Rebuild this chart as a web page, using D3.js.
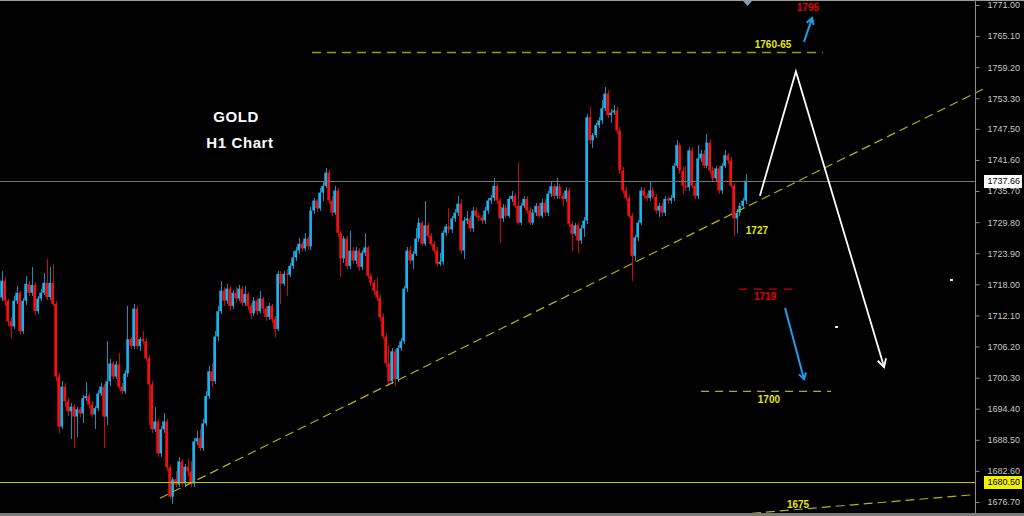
<!DOCTYPE html>
<html>
<head>
<meta charset="utf-8">
<script src="https://cdn.jsdelivr.net/npm/d3@7"></script>
<style>
body { margin: 0; background: #000; }
svg { display: block; }
text { font-family: "Liberation Sans", Arial, sans-serif; }
</style>
</head>
<body>
<svg width="1024" height="516"></svg>
<script>
// GOLD H1 candles (open = previous close)
var firstOpen = 1715.5;
var closes = [
1718.7,1714.9,1711.0,1710.0,1714.9,1716.4,1709.1,1714.9,1718.1,1716.4,
1717.9,1712.9,1715.3,1716.4,1718.3,1715.6,1718.3,1714.3,1700.5,1691.0,
1698.6,1695.8,1693.9,1694.8,1692.9,1694.3,1693.5,1696.4,1696.8,1695.2,
1693.3,1694.5,1697.3,1698.6,1692.9,1699.6,1703.0,1700.5,1702.8,1698.6,
1697.7,1701.1,1707.6,1706.3,1713.4,1706.3,1707.6,1707.2,1704.0,1699.0,
1690.5,1692.0,1685.9,1690.5,1692.0,1683.3,1677.7,1681.0,1680.0,1684.4,
1680.2,1683.4,1682.5,1680.2,1688.2,1688.8,1686.9,1691.6,1696.8,1701.5,
1699.6,1708.1,1712.9,1716.8,1714.9,1717.2,1713.9,1716.4,1715.3,1717.2,
1714.5,1716.2,1713.9,1712.5,1714.9,1712.9,1715.3,1713.4,1711.8,1713.9,
1711.4,1709.5,1720.0,1718.1,1720.0,1719.8,1721.5,1723.1,1724.4,1725.7,
1724.8,1726.7,1725.2,1732.0,1733.9,1732.4,1735.4,1736.7,1739.2,1733.9,
1731.6,1735.8,1727.8,1722.9,1726.7,1721.5,1724.4,1722.5,1724.4,1721.3,
1724.0,1725.0,1719.6,1718.3,1716.8,1715.5,1711.8,1708.1,1703.0,1699.6,
1705.3,1700.0,1705.9,1707.2,1717.2,1724.4,1722.5,1723.8,1726.7,1729.7,
1725.7,1729.2,1727.2,1725.7,1724.4,1721.9,1722.3,1727.8,1729.0,1728.4,
1730.5,1731.6,1733.3,1724.4,1730.1,1730.5,1728.6,1732.0,1731.0,1730.7,
1730.1,1732.0,1733.9,1734.4,1736.7,1733.9,1730.5,1732.6,1731.0,1734.2,
1734.8,1732.9,1729.7,1732.9,1734.2,1732.0,1729.7,1731.6,1732.9,1731.0,
1733.5,1731.6,1735.2,1736.6,1734.8,1736.6,1734.8,1734.2,1735.8,1729.5,
1727.6,1729.2,1726.3,1728.6,1730.1,1749.7,1745.3,1746.3,1748.2,1749.1,
1751.4,1754.2,1750.1,1750.6,1751.0,1747.2,1739.6,1735.8,1734.4,1731.0,
1723.4,1726.9,1729.7,1735.8,1734.8,1734.4,1735.8,1734.6,1732.0,1732.9,
1731.6,1734.2,1733.9,1734.4,1740.5,1744.4,1739.6,1736.7,1736.4,1743.4,
1736.7,1734.8,1741.9,1742.8,1740.5,1744.9,1739.6,1738.1,1740.0,1735.8,
1740.5,1742.5,1741.5,1736.7,1730.5,1731.6,1732.9,1733.9,1737.66
];
var highs = [
1720.6,1719.3,1715.3,1711.8,1715.8,1717.7,1716.8,1715.5,1719.6,1718.7,
1721.2,1718.5,1715.8,1717.2,1720.2,1722.9,1721.2,1721.9,1714.9,1701.1,
1699.6,1699.2,1696.4,1695.4,1695.2,1694.8,1694.8,1697.0,1699.4,1697.3,
1695.8,1695.0,1697.9,1699.2,1699.0,1707.2,1703.8,1703.4,1703.4,1704.9,
1699.2,1701.7,1713.9,1708.1,1714.3,1713.9,1708.1,1709.1,1707.9,1704.5,
1699.6,1694.8,1692.4,1691.1,1693.5,1692.4,1683.8,1681.5,1682.5,1685.3,
1684.9,1684.0,1684.9,1684.4,1688.8,1690.1,1690.5,1692.4,1697.7,1702.5,
1703.0,1709.1,1713.9,1718.7,1717.4,1718.1,1717.7,1717.0,1717.4,1717.9,
1717.6,1717.7,1716.6,1714.5,1715.6,1715.5,1716.8,1715.6,1713.9,1714.5,
1714.3,1712.0,1720.6,1720.6,1720.6,1721.0,1722.1,1724.4,1725.0,1726.7,
1726.3,1727.8,1727.2,1732.6,1734.4,1734.2,1736.2,1737.7,1740.0,1739.6,
1734.8,1736.6,1736.2,1728.2,1727.2,1727.1,1728.2,1725.0,1725.0,1724.8,
1724.6,1727.8,1725.3,1720.2,1718.9,1719.3,1716.0,1712.3,1708.7,1706.3,
1705.9,1705.7,1706.4,1707.8,1717.7,1725.0,1725.2,1724.4,1728.6,1730.5,
1730.1,1733.9,1729.7,1727.8,1726.3,1725.0,1724.0,1728.4,1729.5,1732.4,
1731.0,1732.2,1734.8,1734.2,1730.7,1732.0,1731.0,1732.6,1732.6,1731.6,
1731.2,1732.6,1734.4,1735.0,1738.2,1737.3,1734.4,1733.2,1733.2,1734.8,
1735.8,1735.4,1741.1,1733.5,1734.8,1734.8,1732.6,1732.2,1733.5,1733.5,
1734.1,1734.1,1735.8,1737.7,1737.1,1738.1,1737.1,1735.4,1736.4,1736.2,
1730.1,1729.7,1729.7,1729.2,1730.7,1750.3,1751.6,1746.8,1748.7,1749.7,
1752.9,1755.4,1754.8,1751.2,1752.0,1751.6,1747.8,1740.2,1736.4,1735.0,
1731.6,1727.4,1730.3,1736.4,1736.4,1735.4,1737.7,1736.4,1735.2,1733.5,
1733.5,1734.8,1734.8,1735.0,1741.1,1745.3,1744.9,1740.2,1740.5,1744.0,
1744.0,1737.3,1744.4,1743.4,1743.4,1746.6,1745.5,1740.2,1740.5,1740.5,
1741.1,1743.4,1743.0,1742.1,1737.3,1732.2,1733.5,1734.4,1739.0
];
var lows = [
1714.9,1713.9,1710.0,1707.8,1709.5,1714.3,1708.3,1708.5,1714.1,1715.7,
1715.8,1712.1,1712.3,1714.9,1716.0,1715.1,1715.1,1713.8,1699.6,1689.7,
1690.5,1694.8,1693.1,1688.6,1686.9,1689.1,1692.8,1691.6,1695.8,1694.5,
1692.8,1690.6,1693.9,1696.8,1686.9,1691.4,1698.8,1700.0,1700.0,1698.1,
1697.1,1697.1,1700.5,1705.7,1705.7,1705.7,1705.3,1706.6,1703.4,1691.4,
1689.7,1689.9,1685.3,1685.3,1689.7,1682.5,1677.2,1676.4,1679.5,1679.5,
1679.6,1679.6,1681.7,1679.5,1679.6,1687.6,1686.3,1686.3,1691.1,1696.2,
1698.6,1699.0,1707.2,1712.3,1713.9,1714.3,1712.9,1713.4,1714.5,1714.9,
1713.8,1713.9,1713.2,1711.4,1711.9,1712.1,1712.5,1712.5,1711.0,1711.3,
1710.6,1708.1,1709.1,1714.3,1717.6,1715.8,1719.3,1721.0,1722.5,1723.8,
1724.2,1724.4,1724.6,1724.6,1731.4,1731.8,1732.0,1733.9,1736.2,1733.3,
1731.0,1731.2,1727.0,1719.3,1722.1,1721.0,1721.0,1721.9,1721.9,1720.6,
1720.8,1723.4,1719.1,1717.7,1716.0,1714.9,1711.0,1707.6,1702.3,1698.8,
1699.0,1698.8,1699.4,1705.3,1706.6,1716.6,1721.9,1721.0,1723.3,1726.1,
1725.2,1725.2,1726.7,1725.2,1723.8,1721.4,1721.5,1721.7,1727.2,1727.8,
1727.8,1729.9,1731.0,1723.8,1722.9,1729.5,1728.0,1728.0,1730.5,1730.1,
1729.5,1729.5,1731.4,1733.3,1733.9,1733.3,1725.9,1729.9,1730.5,1730.5,
1733.7,1732.4,1729.2,1729.2,1732.4,1731.4,1729.2,1729.2,1731.0,1730.5,
1730.5,1731.0,1731.0,1734.6,1734.2,1734.2,1734.2,1732.9,1733.7,1728.9,
1724.4,1727.1,1724.0,1725.7,1726.9,1729.5,1744.7,1743.8,1745.7,1747.6,
1748.5,1750.8,1749.5,1748.7,1750.1,1746.6,1739.0,1735.2,1733.9,1730.5,
1718.7,1722.5,1726.3,1729.2,1734.2,1733.9,1733.9,1734.1,1731.4,1730.7,
1731.0,1731.0,1733.3,1733.3,1733.9,1740.0,1739.0,1735.2,1735.8,1735.8,
1736.2,1734.2,1734.2,1741.3,1740.0,1740.0,1739.0,1737.5,1737.5,1735.2,
1735.2,1740.0,1740.9,1736.2,1727.2,1727.8,1731.0,1732.4,1733.3
];

var tickLabels = ["1771.00","1765.10","1759.20","1753.30","1747.50","1741.60","1735.70","1729.80",
  "1723.90","1718.00","1712.10","1706.20","1700.30","1694.40","1688.50","1682.60","1676.70"];
var lastPrice = 1737.66;
var supportPrice = 1680.50;

// drawn objects, as [bar index, price]
var trendUp = [[52.8, 1677.4], [327.8, 1755.2]];
var trendLow = [[236.2, 1673.9], [324.5, 1678.1]];
var levelLines = [
  { pts: [[103.5, 1762.0], [273.8, 1762.0]], color: "#9c9c00", dash: "9,6", w: 1.6 },
  { pts: [[245.8, 1717.1], [263.8, 1717.1]], color: "#c80000", dash: "8,7", w: 1.3 },
  { pts: [[233.2, 1697.7], [276.5, 1697.7]], color: "#b4b400", dash: "8,6", w: 1.3 }
];
var forecast = [[252.8, 1734.8], [264.8, 1758.4], [294.2, 1702.3]];
var blueArrows = [
  [[267.5, 1764.0], [270.2, 1768.5]],
  [[261.2, 1713.5], [267.5, 1700.0]]
];
var labels = [
  { text: "1795", i: 268.8, p: 1769.9, color: "#e80000" },
  { text: "1760-65", i: 257.2, p: 1762.8, color: "#e8e800" },
  { text: "1727", i: 251.8, p: 1727.6, color: "#e8e800" },
  { text: "1719", i: 254.5, p: 1715.0, color: "#e80000" },
  { text: "1700", i: 255.8, p: 1695.4, color: "#e8e800" },
  { text: "1675", i: 265.5, p: 1675.6, color: "#e8e800" }
];
var dots = [[316.5, 1718.9], [278.2, 1709.9]];

var svg = d3.select("svg"),
    width = +svg.attr("width"),
    height = +svg.attr("height");

var x = d3.scaleLinear().domain([0, 324.5]).range([1.5, 975]);
var y = d3.scaleLinear().domain([1771, 1676.7]).range([5, 502]);

svg.append("rect").attr("width", width).attr("height", height).attr("fill", "#000");

var candles = closes.map(function(c, i) {
  var o = i ? closes[i - 1] : firstOpen;
  return { i: i, o: o, c: c, h: Math.max(highs[i], o, c), l: Math.min(lows[i], o, c) };
});
function col(d) { return d.c >= d.o ? "#19b4f2" : "#ff0d0d"; }

var cg = svg.append("g");
cg.selectAll(".wick")
  .data(candles)
  .enter().append("rect")
    .attr("shape-rendering", "crispEdges")
    .attr("x", function(d) { return Math.round(x(d.i)); })
    .attr("width", 1)
    .attr("y", function(d) { return y(d.h); })
    .attr("height", function(d) { return Math.max(1, y(d.l) - y(d.h)); })
    .attr("fill", col)
    .attr("opacity", 0.8);
cg.selectAll(".body")
  .data(candles)
  .enter().append("rect")
    .attr("x", function(d) { return x(d.i) - 1.2; })
    .attr("width", 2.6)
    .attr("y", function(d) { return y(Math.max(d.o, d.c)); })
    .attr("height", function(d) { return Math.max(1, Math.abs(y(d.o) - y(d.c))); })
    .attr("fill", col);

var line = d3.line()
  .x(function(d) { return x(d[0]); })
  .y(function(d) { return y(d[1]); });

// horizontal price lines
svg.append("line")
  .attr("x1", 0).attr("x2", 975)
  .attr("y1", Math.round(y(lastPrice)) + 0.5).attr("y2", Math.round(y(lastPrice)) + 0.5)
  .attr("stroke", "#72757c");
svg.append("line")
  .attr("x1", 0).attr("x2", 975)
  .attr("y1", Math.round(y(supportPrice)) + 0.5).attr("y2", Math.round(y(supportPrice)) + 0.5)
  .attr("stroke", "#c4c400");

// trend lines
[trendUp, trendLow].forEach(function(t) {
  svg.append("path").attr("d", line(t))
    .attr("fill", "none").attr("stroke", "#b8b400")
    .attr("stroke-width", 1.2).attr("stroke-dasharray", "9,5");
});
levelLines.forEach(function(l) {
  svg.append("path").attr("d", line(l.pts))
    .attr("fill", "none").attr("stroke", l.color)
    .attr("stroke-width", l.w).attr("stroke-dasharray", l.dash);
});

function arrowHead(a, b, len, ang) {
  var x1 = x(a[0]), y1 = y(a[1]), x2 = x(b[0]), y2 = y(b[1]);
  var t = Math.atan2(y2 - y1, x2 - x1);
  return "M" + (x2 - len * Math.cos(t - ang)) + "," + (y2 - len * Math.sin(t - ang)) +
    "L" + x2 + "," + y2 +
    "L" + (x2 - len * Math.cos(t + ang)) + "," + (y2 - len * Math.sin(t + ang));
}

// white forecast path
svg.append("path").attr("d", line(forecast))
  .attr("fill", "none").attr("stroke", "#fff").attr("stroke-width", 1.8);
svg.append("path").attr("d", arrowHead(forecast[1], forecast[2], 9, 0.5))
  .attr("fill", "none").attr("stroke", "#fff").attr("stroke-width", 1.8);

blueArrows.forEach(function(a) {
  svg.append("path").attr("d", line(a))
    .attr("fill", "none").attr("stroke", "#1c9fe8").attr("stroke-width", 2);
  svg.append("path").attr("d", arrowHead(a[0], a[1], 7, 0.55))
    .attr("fill", "none").attr("stroke", "#1c9fe8").attr("stroke-width", 2);
});

svg.selectAll(".dot")
  .data(dots)
  .enter().append("rect")
    .attr("x", function(d) { return Math.round(x(d[0])) - 1; })
    .attr("y", function(d) { return Math.round(y(d[1])) - 1; })
    .attr("width", 3).attr("height", 2)
    .attr("fill", "#e8e8e8");

svg.selectAll(".lbl")
  .data(labels)
  .enter().append("text")
    .attr("x", function(d) { return x(d.i); })
    .attr("y", function(d) { return y(d.p); })
    .attr("text-anchor", "middle")
    .attr("font-size", "10px")
    .attr("font-weight", "bold")
    .attr("fill", function(d) { return d.color; })
    .text(function(d) { return d.text; });

svg.append("text")
  .attr("x", 236).attr("y", 122)
  .attr("text-anchor", "middle")
  .attr("font-size", "15px").attr("font-weight", "bold")
  .attr("letter-spacing", "0.6")
  .attr("fill", "#fff")
  .text("GOLD");
svg.append("text")
  .attr("x", 240).attr("y", 148)
  .attr("text-anchor", "middle")
  .attr("font-size", "15px").attr("font-weight", "bold")
  .attr("letter-spacing", "0.6")
  .attr("fill", "#fff")
  .text("H1 Chart");

// frame
svg.append("line").attr("x1", 0).attr("x2", width).attr("y1", 0.5).attr("y2", 0.5).attr("stroke", "#9a9a9a");
svg.append("rect").attr("x", 0).attr("y", 513).attr("width", width).attr("height", 3).attr("fill", "#7a7a7a");
svg.append("path").attr("d", "M743,1L752,1L747.5,6Z").attr("fill", "#8a9aae");

// price axis
var axis = svg.append("g")
  .attr("transform", "translate(975.5,0)")
  .call(d3.axisRight(y)
    .tickValues(tickLabels.map(Number))
    .tickFormat(function(d, i) { return tickLabels[i]; })
    .tickSize(4)
    .tickPadding(8));
axis.select(".domain").attr("d", "M0,0V513").attr("stroke", "#8c8c8c");
axis.selectAll(".tick line").attr("stroke", "#8c8c8c");
axis.selectAll(".tick text")
  .attr("fill", "#c8c8c8")
  .attr("font-size", "9px")
  .attr("font-family", "'Liberation Sans', Arial, sans-serif");

function priceBox(p, bg) {
  var yy = Math.round(y(p));
  svg.append("rect").attr("x", 984).attr("y", yy - 6).attr("width", 38).attr("height", 13).attr("fill", bg);
  svg.append("text").attr("x", 987.5).attr("y", yy).attr("dy", "0.35em")
    .attr("font-size", "9px").attr("fill", "#000")
    .text(p.toFixed(2));
}
priceBox(lastPrice, "#ffffff");
priceBox(supportPrice, "#f2f200");
</script>
</body>
</html>
